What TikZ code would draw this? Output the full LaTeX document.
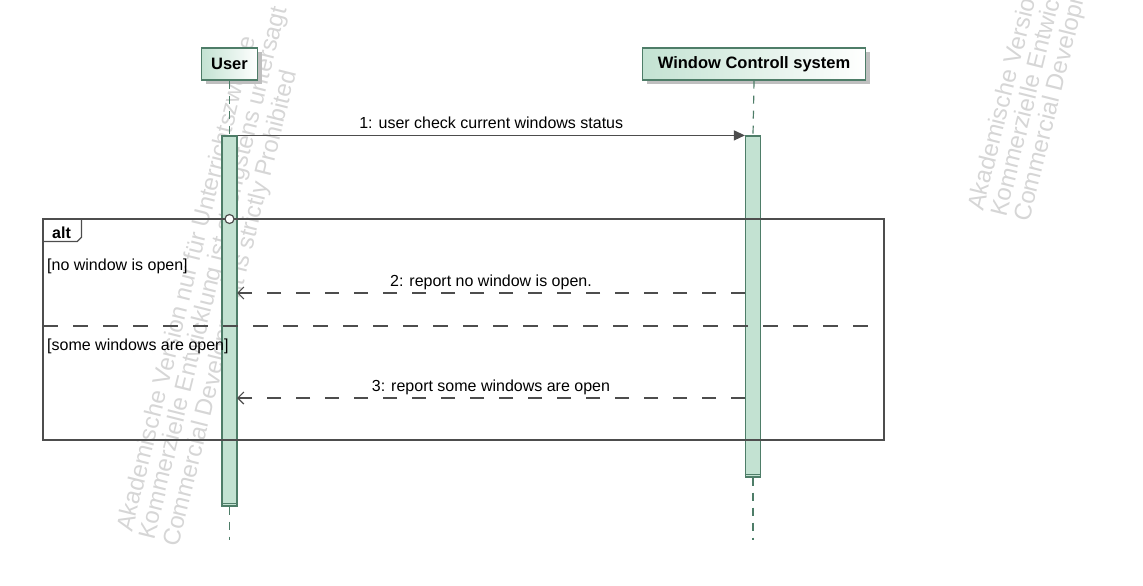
\documentclass[tikz,border=0pt]{standalone}
\usepackage{fontspec}
\setmainfont{Liberation Sans}
\usetikzlibrary{arrows.meta,shadows}
\definecolor{actfill}{HTML}{C3E2D2}
\definecolor{actline}{HTML}{4E7D68}
\definecolor{framegray}{HTML}{4D4D4D}
\definecolor{markgray}{HTML}{D6D6D6}
\tikzset{
	headbox/.style={draw=actline,line width=1.2pt,left color=actfill,right color=white,minimum height=32,inner sep=0,
		font=\fontsize{16.5}{19}\selectfont\bfseries,drop shadow={shadow xshift=4pt,shadow yshift=-4pt,fill=black!25,opacity=1}},
	actbar/.style={draw=actline,fill=actfill,line width=1.2pt,minimum width=15,inner sep=0},
	lifeline/.style={draw=actline,line width=1.2pt,dash pattern=on 8pt off 7pt},
	msgtext/.style={font=\fontsize{16}{19}\selectfont,inner sep=0},
	callmsg/.style={draw=framegray,line width=1.2pt,-{Triangle[length=11pt,width=10pt]}},
	replymsg/.style={draw=framegray,line width=1.2pt,dash pattern=on 14pt off 15pt,-{Straight Barb[length=6pt,width=12pt]}},
	watermark/.style={anchor=base west,rotate=76,text=markgray,inner sep=0,font=\fontsize{24}{27}\selectfont}
}
\begin{document}
\begin{tikzpicture}[x=1pt,y=-1pt]
\useasboundingbox (0,0) rectangle (1143,586);
\node[watermark] (markA1) at (132,533) {Akademische Version nur für Unterrichtszwecke};
\node[watermark] (markA2) at (154,541) {Kommerzielle Entwicklung ist strengstens untersagt};
\node[watermark] (markA3) at (178,548) {Commercial Development is strictly Prohibited};
\node[watermark] (markB1) at (983,212) {Akademische Version nur für Unterrichtszwecke};
\node[watermark] (markB2) at (1006,218) {Kommerzielle Entwicklung ist strengstens untersagt};
\node[watermark] (markB3) at (1029,223) {Commercial Development is strictly Prohibited};
\node[headbox,minimum width=56] (user) at (229.5,64) {User};
\node[headbox,minimum width=223] (wcs) at (754,64) {Window Controll system};
\node[actbar,minimum height=370] (useract) at (229.5,321) {};
\node[actbar,minimum height=341] (wcsact) at (753,306.5) {};
\draw[actline,line width=1.2pt] ([yshift=3pt]useract.south west)--([yshift=3pt]useract.south east);
\draw[actline,line width=1.2pt] ([yshift=3pt]wcsact.south west)--([yshift=3pt]wcsact.south east);
\coordinate (userend) at (229.5,540);
\coordinate (wcsend) at (753,540);
\draw[lifeline] (user.south)--(useract.north);
\draw[lifeline] (useract.south)--(userend);
\draw[lifeline] (wcs.south)--(wcsact.north);
\draw[lifeline] (wcsact.south)--(wcsend);
\node[draw=framegray,line width=1.2pt,minimum width=841,minimum height=221,inner sep=0] (alt) at (463.5,329.5) {};
\draw[framegray,line width=1.2pt] (alt.north west) ++(0,23) -- ++(35,0) -- ++(4,-4) -- ++(0,-19);
\node[anchor=base west,inner sep=0,font=\fontsize{16}{19}\selectfont\bfseries] (altname) at (52,238) {alt};
\node[msgtext,anchor=base west] (guard1) at (47,270) {[no window is open]};
\node[msgtext,anchor=base west] (guard2) at (47,350) {[some windows are open]};
\draw[framegray,line width=1.2pt,dash pattern=on 15pt off 15pt] (43,326)--(870,326);
\node[circle,draw=framegray,fill=white,line width=1.2pt,minimum size=9,inner sep=0] (altmark) at (229.5,219) {};
\coordinate (m2from) at (745,293);
\coordinate (m2to) at (237,293);
\coordinate (m3from) at (745,398);
\coordinate (m3to) at (237,398);
\draw[callmsg] (useract.north east)--(wcsact.north west)
	node[msgtext,midway,anchor=base,yshift=7pt] (msg1) {1: user check current windows status};
\draw[replymsg] (m2from)--(m2to)
	node[msgtext,midway,anchor=base,yshift=7pt] (msg2) {2: report no window is open.};
\draw[replymsg] (m3from)--(m3to)
	node[msgtext,midway,anchor=base,yshift=7pt] (msg3) {3: report some windows are open};
\end{tikzpicture}
\end{document}
